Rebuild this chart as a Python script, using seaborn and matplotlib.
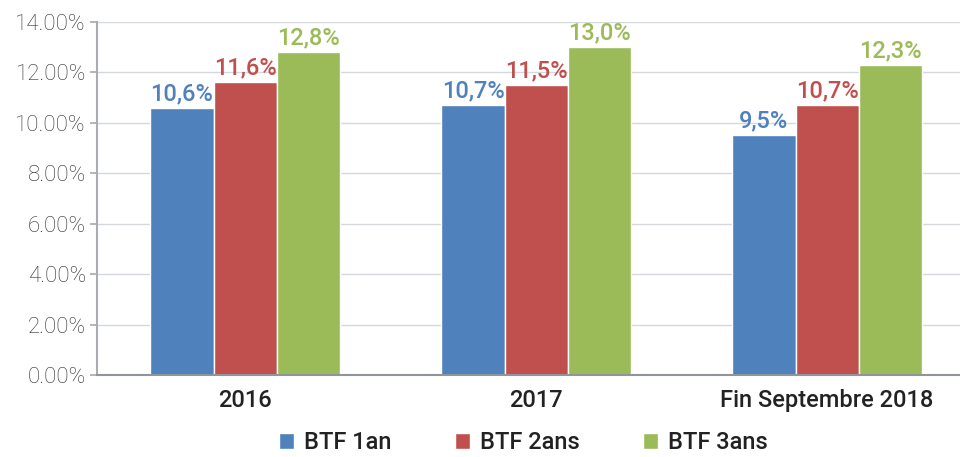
import matplotlib.pyplot as plt
import matplotlib.ticker as mtick
import pandas as pd
import seaborn as sns

periods = ["2016", "2017", "Fin Septembre 2018"]
series = ["BTF 1an", "BTF 2ans", "BTF 3ans"]
btf_1an = [10.6, 10.7, 9.5]
btf_2ans = [11.6, 11.5, 10.7]
btf_3ans = [12.8, 13.0, 12.3]
colors = ["#4F81BD", "#C0504D", "#9BBB59"]

df = pd.DataFrame({
    "period": periods * 3,
    "serie": [s for s in series for _ in periods],
    "rate": btf_1an + btf_2ans + btf_3ans,
})

sns.set_theme(style="white")
plt.rcParams['font.family'] = ['Roboto', 'DejaVu Sans']

fig = plt.figure(figsize=(9.6, 4.57), dpi=100)
ax = fig.add_axes([0.101, 0.179, 0.899, 0.773])

sns.barplot(data=df, x="period", y="rate", hue="serie", palette=colors,
            width=0.65, edgecolor="white", linewidth=1, saturation=1, ax=ax, legend=True)

for cont, col in zip(ax.containers, colors):
    ax.bar_label(cont, labels=[f"{v:.1f}%".replace(".", ",") for v in cont.datavalues],
                 padding=2, color=col, fontsize=17, fontweight="medium")

ax.set_ylim(0, 14)
ax.set_xlim(-0.509, 2.457)
ax.set_yticks(range(0, 15, 2))
ax.yaxis.set_major_formatter(mtick.FuncFormatter(lambda v, _: f"{v:.2f}%"))
ax.grid(axis="y", color="#d5d8dc", linewidth=1)
ax.set_axisbelow(True)
ax.set_xlabel("")
ax.set_ylabel("")

for s in ["top", "right"]:
    ax.spines[s].set_visible(False)
ax.spines["left"].set_color("#a9adb2")
ax.spines["bottom"].set_color("#8f959b")
ax.spines["left"].set_linewidth(1.5)
ax.spines["bottom"].set_linewidth(1.5)

ax.tick_params(axis="y", left=True, length=5, color="#a9adb2", labelsize=16,
               labelcolor="#2e2e2e", pad=3)
ax.tick_params(axis="x", bottom=False, labelsize=17, labelcolor="#222222", pad=4)
for t in ax.get_yticklabels():
    t.set_fontweight("light")
for t in ax.get_xticklabels():
    t.set_fontweight("medium")

handles, labels = ax.get_legend_handles_labels()
ax.get_legend().remove()
leg = fig.legend(handles, labels, loc="lower center", bbox_to_anchor=(0.545, -0.04), ncol=3,
                 frameon=False, fontsize=17, handlelength=0.65, handleheight=0.65,
                 handletextpad=0.4, columnspacing=2.7)
for t in leg.get_texts():
    t.set_fontweight("medium")
    t.set_color("#222222")

fig.savefig("out.png", dpi=100)
